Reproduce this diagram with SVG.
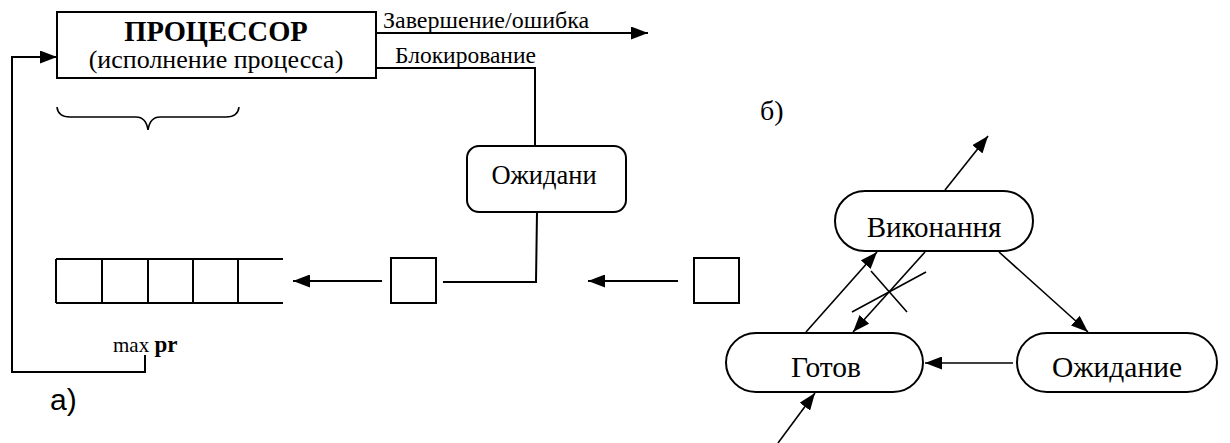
<svg xmlns="http://www.w3.org/2000/svg" width="1230" height="443" viewBox="0 0 1230 443">
  <style>
    text { font-family: 'Liberation Serif', 'Times New Roman', 'DejaVu Serif', serif; fill: #000; }
    text.sans { font-family: 'Liberation Sans', Arial, sans-serif; }
    .b { stroke: #000; stroke-width: 2; fill: #fff; }
    .ln { stroke: #000; stroke-width: 2; fill: none; }
    .ln15 { stroke: #000; stroke-width: 1.6; fill: none; }
  </style>
  <defs>
    <marker id="ah" viewBox="0 0 17 13" refX="17" refY="6.5" markerWidth="17" markerHeight="13" markerUnits="userSpaceOnUse" orient="auto">
      <path d="M0,0 L17,6.5 L0,13 Z" fill="#000"/>
    </marker>
  </defs>
  <rect width="1230" height="443" fill="#fff"/>

  <!-- (a) processor and queue -->
  <g id="processor">
    <rect class="b" x="57" y="12" width="319" height="66"/>
    <text x="216" y="41" font-size="28.5" font-weight="bold" text-anchor="middle">ПРОЦЕССОР</text>
    <text x="216" y="68" font-size="26" text-anchor="middle">(исполнение процесса)</text>
  </g>

  <g id="brace">
    <path class="ln15" d="M57,107 Q58,117 70,117 L136,117 Q146,117 148,130 Q150,117 160,117 L226,117 Q238,117 239,107"/>
  </g>

  <g id="wait-a">
    <rect class="b" x="467" y="146" width="159" height="66" rx="12"/>
    <text x="544" y="184" font-size="26.5" text-anchor="middle">Ожидани</text>
  </g>

  <g id="queue">
    <path class="ln" d="M56,259 L283,259 M56,303 L283,303 M56,259 L56,303 M102,259 L102,303 M148,259 L148,303 M193,259 L193,303 M238,259 L238,303"/>
  </g>

  <g id="cell-1">
    <rect class="b" x="391" y="258" width="45" height="45"/>
  </g>
  <g id="cell-2">
    <rect class="b" x="694" y="258" width="45" height="45"/>
  </g>

  <g id="labels-a">
    <text x="383" y="28" font-size="24">Завершение/ошибка</text>
    <text x="395" y="63" font-size="23.5">Блокирование</text>
    <text x="113" y="352" font-size="21">max <tspan font-weight="bold" font-size="23">pr</tspan></text>
    <text class="sans" x="50" y="410" font-size="30">a)</text>
  </g>

  <!-- (б) state graph -->
  <g id="running">
    <rect class="b" x="835" y="191" width="198" height="60" rx="30" stroke-width="1.8"/>
    <text x="934" y="237" font-size="29" text-anchor="middle">Виконання</text>
  </g>
  <g id="ready">
    <rect class="b" x="726" y="333" width="197" height="59" rx="30" stroke-width="1.8"/>
    <text x="826" y="377" font-size="29.5" text-anchor="middle">Готов</text>
  </g>
  <g id="waiting">
    <rect class="b" x="1017" y="333" width="200" height="59" rx="30" stroke-width="1.8"/>
    <text x="1117" y="377" font-size="29.5" text-anchor="middle">Ожидание</text>
  </g>
  <g id="label-b">
    <text x="760" y="120" font-size="28">б)</text>
  </g>

  <g id="connectors">
    <!-- feedback from queue head back into the processor -->
    <path class="ln" d="M145,355 L145,372 L12,372 L12,57 L57,57" marker-end="url(#ah)"/>
    <!-- processor exits -->
    <path class="ln" d="M376,33 L648,33" marker-end="url(#ah)"/>
    <path class="ln" d="M376,68 L535,68 L535,146"/>
    <path class="ln" d="M537,212 L536,282 L443,282"/>
    <!-- arrivals into the queue -->
    <path class="ln" d="M382,281 L293,281" marker-end="url(#ah)"/>
    <path class="ln" d="M678,281 L588,281" marker-end="url(#ah)"/>

    <!-- state transitions -->
    <path class="ln15" d="M945,190 L988,136" marker-end="url(#ah)"/>
    <path class="ln15" d="M806,332 L877,252" marker-end="url(#ah)"/>
    <path class="ln15" d="M925,252 L853,332" marker-end="url(#ah)"/>
    <path class="ln15" d="M999,252 L1088,332" marker-end="url(#ah)"/>
    <path class="ln15" d="M1013,363 L925,363" marker-end="url(#ah)"/>
    <path class="ln15" d="M778,443 L815,393" marker-end="url(#ah)"/>
    <!-- crossed-out transition -->
    <path class="ln15" d="M871,271 L907,312 M852,312 L926,272"/>
  </g>
</svg>
